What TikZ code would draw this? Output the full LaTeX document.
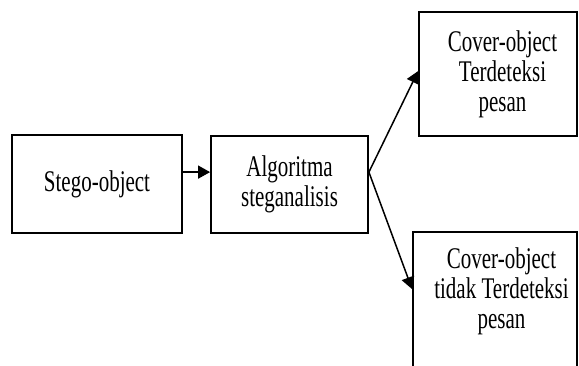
\documentclass[tikz,border=0pt]{standalone}
\usepackage{fontspec}
\newfontfamily\tnr[FakeStretch=0.7]{Liberation Serif}
\usetikzlibrary{arrows.meta,calc}
\begin{document}
\begin{tikzpicture}[x=1pt,y=-1pt,
  boxstyle/.style={draw=black,line width=1.8pt,rectangle,inner sep=0pt,
    align=center,font=\tnr\fontsize{30}{30}\selectfont},
  labelstyle/.style={inner sep=0pt,align=center,font=\tnr\fontsize{30}{30}\selectfont},
  arrowstyle/.style={draw=black,line width=1.5pt,-{Triangle[length=12pt,width=13pt]}}]
\path[use as bounding box,clip] (0,0) rectangle (579,365);
\fill[white] (0,0) rectangle (579,365);
\node[boxstyle,minimum width=170pt,minimum height=98pt] (stego) at (97,184) {Stego-object};
\node[boxstyle,minimum width=157pt,minimum height=97pt] (alg) at (289.5,184.5) {Algoritma\\steganalisis};
\node[boxstyle,minimum width=158pt,minimum height=124pt] (top) at (498,74) {};
\node[labelstyle] (toplabel) at (502.5,74) {Cover-object\\Terdeteksi\\pesan};
\node[boxstyle,minimum width=164pt,minimum height=148pt] (bot) at (495,306) {};
\node[labelstyle] (botlabel) at (501.5,291) {Cover-object\\tidak Terdeteksi\\pesan};
\coordinate (sout) at ($(stego.north east)+(0,38)$);
\coordinate (ain) at ($(alg.north west)+(0,37)$);
\coordinate (br) at ($(alg.north east)+(0,37)$);
\coordinate (tin) at ($(top.north west)+(0,60)$);
\coordinate (bin) at ($(bot.north west)+(0,58)$);
\draw[arrowstyle] (sout) -- (ain);
\draw[arrowstyle] (br) -- (tin);
\draw[arrowstyle] (br) -- (bin);
\end{tikzpicture}
\end{document}
